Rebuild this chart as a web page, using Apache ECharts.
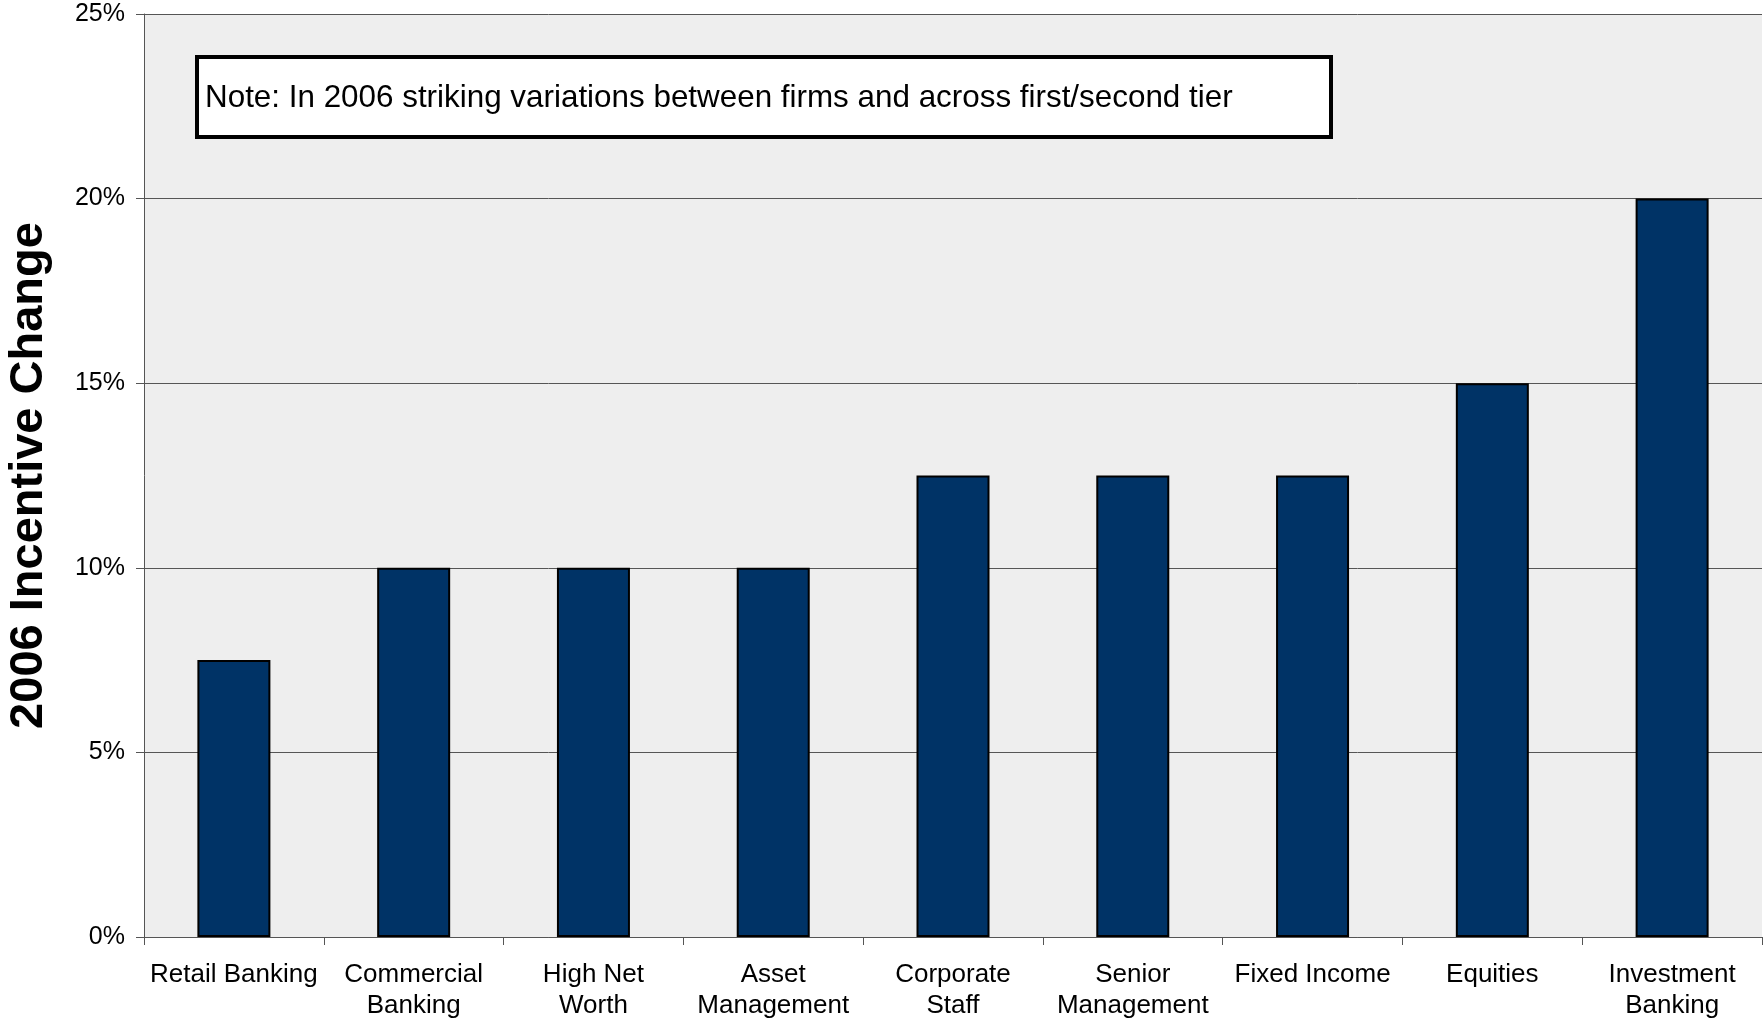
<!DOCTYPE html>
<html>
<head>
<meta charset="utf-8">
<title>2006 Incentive Change</title>
<script src="https://cdn.jsdelivr.net/npm/echarts@6/dist/echarts.min.js"></script>
<style>
  html, body { margin: 0; padding: 0; background: #ffffff; }
  #chart { width: 1763px; height: 1021px; }
</style>
</head>
<body>
<div id="chart"></div>
<script>
// Business lines along the x axis
const categories = [
  'Retail Banking',
  'Commercial\nBanking',
  'High Net\nWorth',
  'Asset\nManagement',
  'Corporate\nStaff',
  'Senior\nManagement',
  'Fixed Income',
  'Equities',
  'Investment\nBanking'
];

// Incentive change per business line, in percent
const incentiveChange = [7.5, 10, 10, 10, 12.5, 12.5, 12.5, 15, 20];

// Value axis range and step, in percent
const yMin = 0;
const yMax = 25;
const yStep = 5;

const noteText = 'Note: In 2006 striking variations between firms and across first/second tier';

const FONT = "'Liberation Sans', Arial, sans-serif";

const chart = echarts.init(document.getElementById('chart'), null, { renderer: 'canvas' });

chart.setOption({
  animation: false,
  backgroundColor: '#ffffff',
  grid: {
    left: 144,
    right: 1,
    top: 14,
    bottom: 84,
    outerBoundsMode: 'none',
    containLabel: false,
    show: true,
    backgroundColor: '#eeeeee',
    borderWidth: 0
  },
  xAxis: {
    type: 'category',
    data: categories,
    axisLine: { show: true, lineStyle: { color: '#555555', width: 1 } },
    axisTick: { show: true, length: 8, alignWithLabel: false, lineStyle: { color: '#555555', width: 1 } },
    axisLabel: {
      interval: 0,
      margin: 22,
      fontFamily: FONT,
      fontSize: 26,
      lineHeight: 31,
      color: '#000000'
    },
    splitLine: { show: false }
  },
  yAxis: {
    type: 'value',
    min: yMin,
    max: yMax,
    interval: yStep,
    name: '2006 Incentive Change',
    nameLocation: 'middle',
    nameGap: 91,
    nameTextStyle: {
      fontFamily: FONT,
      fontSize: 47,
      fontWeight: 'bold',
      color: '#000000'
    },
    axisLine: { show: true, lineStyle: { color: '#555555', width: 1 } },
    axisTick: { show: true, length: 8, lineStyle: { color: '#555555', width: 1 } },
    axisLabel: {
      margin: 19,
      formatter: '{value}%',
      fontFamily: FONT,
      fontSize: 25,
      color: '#000000'
    },
    splitLine: { show: true, lineStyle: { color: '#555555', width: 1 } }
  },
  series: [{
    type: 'bar',
    data: incentiveChange,
    barWidth: 73,
    itemStyle: {
      color: '#003366',
      borderColor: '#000000',
      borderWidth: 2
    }
  }],
  graphic: [{
    type: 'group',
    left: 195,
    top: 55,
    children: [{
      type: 'rect',
      shape: { x: 2, y: 2, width: 1134, height: 80 },
      style: { fill: '#ffffff', stroke: '#000000', lineWidth: 4 }
    }, {
      type: 'text',
      x: 10,
      y: 43,
      style: {
        text: noteText,
        fontFamily: FONT,
        fontSize: 31.4,
        fill: '#000000',
        verticalAlign: 'middle'
      }
    }]
  }]
});
</script>
</body>
</html>
